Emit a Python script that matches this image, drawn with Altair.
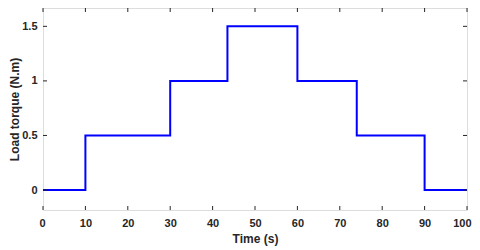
import altair as alt
import pandas as pd

time_s = [0, 10, 30, 43.5, 60, 74, 90, 100]
torque = [0, 0.5, 1, 1.5, 1, 0.5, 0, 0]
x_ticks = [0, 10, 20, 30, 40, 50, 60, 70, 80, 90, 100]
y_ticks = [0, 0.5, 1, 1.5]

W, H = 424, 202
XD = [0, 100]
YD = [-0.183, 1.668]
axis_col = "#262626"
font = "Liberation Sans"

df = pd.DataFrame({"t": time_s, "T": torque})
xt = pd.DataFrame({"v": x_ticks})
yt = pd.DataFrame({"v": y_ticks})

xs = alt.Scale(domain=XD, nice=False, zero=False)
ys = alt.Scale(domain=YD, nice=False, zero=False)

line = alt.Chart(df).mark_line(color="#0000FF", strokeWidth=2, interpolate="step-after").encode(
    x=alt.X("t:Q", scale=xs, title="Time (s)",
            axis=alt.Axis(values=x_ticks, ticks=False, grid=False, domain=False,
                          labelFont=font, labelFontWeight="bold", labelFontSize=11,
                          labelColor=axis_col, labelPadding=7,
                          labelFlush=True, labelFlushOffset=4,
                          titleFont=font, titleFontWeight="bold", titleFontSize=12,
                          titleColor=axis_col, titlePadding=5)),
    y=alt.Y("T:Q", scale=ys, title="Load torque (N.m)",
            axis=alt.Axis(values=y_ticks, ticks=False, grid=False, domain=False,
                          format="~g",
                          labelFont=font, labelFontWeight="bold", labelFontSize=11,
                          labelColor=axis_col, labelPadding=6, labelFlush=False,
                          titleFont=font, titleFontWeight="bold", titleFontSize=12,
                          titleColor=axis_col, titlePadding=0)),
)

tk = 4
xb = alt.Chart(xt).mark_rule(color=axis_col, strokeWidth=1).encode(
    x=alt.X("v:Q", scale=xs), y=alt.value(H), y2=alt.value(H - tk))
xtop = alt.Chart(xt).mark_rule(color=axis_col, strokeWidth=1).encode(
    x=alt.X("v:Q", scale=xs), y=alt.value(0), y2=alt.value(tk))
yl = alt.Chart(yt).mark_rule(color=axis_col, strokeWidth=1).encode(
    y=alt.Y("v:Q", scale=ys), x=alt.value(0), x2=alt.value(tk))
yr = alt.Chart(yt).mark_rule(color=axis_col, strokeWidth=1).encode(
    y=alt.Y("v:Q", scale=ys), x=alt.value(W), x2=alt.value(W - tk))

chart = alt.layer(line, xb, xtop, yl, yr).properties(
    width=W, height=H,
    autosize=alt.AutoSizeParams(type="none"),
    padding={"left": 35, "top": 0, "right": 5, "bottom": 40},
).configure_view(stroke="#6e6e6e", strokeWidth=1.2).configure(background="white")

chart.save("out.html", embed_options={"renderer": "svg", "actions": False})
